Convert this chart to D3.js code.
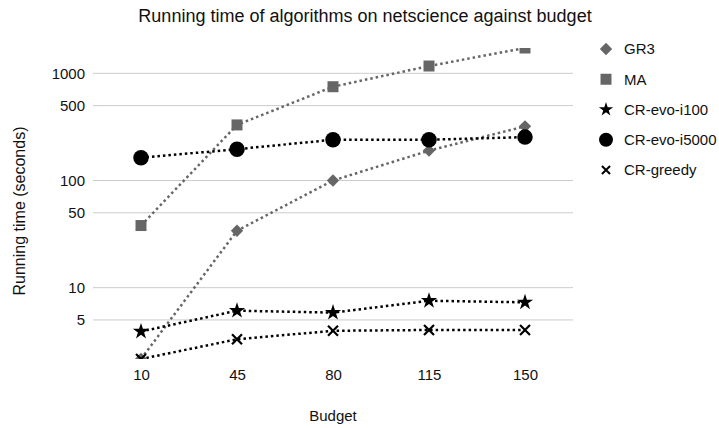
<!DOCTYPE html>
<html><head><meta charset="utf-8">
<script src="https://cdn.jsdelivr.net/npm/d3@7"></script>
<style>body{margin:0;background:#fff}svg{display:block;font-family:"Liberation Sans",Arial,sans-serif}</style>
</head><body><svg id="c" width="719" height="428"></svg>
<script>
const budgets = ["10","45","80","115","150"];
const gr3 = [2.16, 34, 100, 190, 320];
const ma = [38, 330, 750, 1170, 1723];
const evo100 = [3.9, 6.1, 5.85, 7.55, 7.3];
const evo5000 = [163, 196, 240, 240, 254];
const greedy = [2.16, 3.3, 3.96, 4.03, 4.03];
const yTicks = [5, 10, 50, 100, 500, 1000];
const seriesNames = ["GR3","MA","CR-evo-i100","CR-evo-i5000","CR-greedy"];

const series = [
  {name: seriesNames[0], values: gr3, color: "#666666", marker: "diamond"},
  {name: seriesNames[1], values: ma, color: "#666666", marker: "square"},
  {name: seriesNames[2], values: evo100, color: "#000000", marker: "star"},
  {name: seriesNames[3], values: evo5000, color: "#000000", marker: "circle"},
  {name: seriesNames[4], values: greedy, color: "#000000", marker: "cross"}
];

const svg = d3.select("#c");
const pLeft = 93, pRight = 573, pTop = 48, pBottom = 359;

const x = d3.scalePoint().domain(budgets).range([141, 525]);
const y = d3.scaleLog().domain([2.16, 1723]).range([pBottom, pTop]);

svg.append("defs").append("clipPath").attr("id","clip")
  .append("rect").attr("x", pLeft).attr("y", pTop).attr("width", pRight-pLeft).attr("height", pBottom-pTop);

// gridlines
svg.append("g").selectAll("line").data(yTicks).join("line")
  .attr("x1", pLeft).attr("x2", pRight)
  .attr("y1", d => y(d)).attr("y2", d => y(d))
  .attr("stroke", "#cccccc").attr("stroke-width", 1);

// y axis labels
const yAxis = d3.axisLeft(y).tickValues(yTicks).tickFormat(d3.format("d")).tickSize(0).tickPadding(0);
const ya = svg.append("g").attr("transform", `translate(85,0)`).call(yAxis);
ya.select(".domain").remove();
ya.selectAll("text").attr("font-size", 15).attr("fill", "#111").attr("font-family", "Liberation Sans, Arial, sans-serif");

// x axis labels
const xAxis = d3.axisBottom(x).tickSize(0).tickPadding(0);
const xa = svg.append("g").attr("transform", `translate(0,369)`).call(xAxis);
xa.select(".domain").remove();
xa.selectAll("text").attr("font-size", 15).attr("fill", "#111").attr("font-family", "Liberation Sans, Arial, sans-serif");

function markerPath(type, s) {
  if (type === "diamond") return d3.symbol(d3.symbolDiamond2, s*s*0.5)();
  if (type === "square") return d3.symbol(d3.symbolSquare, s*s)();
  if (type === "star") return d3.symbol(d3.symbolStar, s*s*0.32)();
  if (type === "circle") return d3.symbol(d3.symbolCircle, Math.PI*s*s/4)();
  if (type === "cross") return d3.symbol(d3.symbolX, s*s*0.55)();
}
const sizes = {diamond: 14, square: 11, star: 16, circle: 15.5, cross: 11};

const plot = svg.append("g").attr("clip-path", "url(#clip)");
const line = d3.line().x((d,i) => x(budgets[i])).y(d => y(d));

series.forEach(s => {
  plot.append("path").datum(s.values).attr("d", line)
    .attr("fill", "none").attr("stroke", s.color).attr("stroke-width", 2.5)
    .attr("stroke-dasharray", "2.5,3");
});
series.forEach(s => {
  const g = plot.append("g");
  s.values.forEach((v,i) => {
    const p = g.append("path").attr("d", markerPath(s.marker, sizes[s.marker]))
      .attr("transform", `translate(${x(budgets[i])},${y(v)})`);
    if (s.marker === "cross") p.attr("fill","none").attr("stroke", s.color).attr("stroke-width", 2.2);
    else p.attr("fill", s.color);
  });
});

// legend
const lg = svg.append("g");
const legY = d3.scalePoint().domain(seriesNames).range([49, 170]);
series.forEach(s => {
  const cy = legY(s.name);
  const sz = {diamond: 14, square: 11, star: 14, circle: 14, cross: 9}[s.marker];
  const p = lg.append("path").attr("d", markerPath(s.marker, sz)).attr("transform", `translate(606,${cy})`);
  if (s.marker === "cross") p.attr("fill","none").attr("stroke", s.color).attr("stroke-width", 2);
  else p.attr("fill", s.color);
  lg.append("text").attr("x", 624).attr("y", cy).attr("dy", "0.35em")
    .attr("font-size", 15).attr("fill", "#111").text(s.name);
});

// title
svg.append("text").attr("x", 365).attr("y", 22).attr("text-anchor", "middle")
  .attr("font-size", 18).attr("fill", "#111").text("Running time of algorithms on netscience against budget");
// axis titles
svg.append("text").attr("x", 333).attr("y", 421).attr("text-anchor", "middle")
  .attr("font-size", 15).attr("fill", "#111").text("Budget");
svg.append("text").attr("transform", "translate(25,211) rotate(-90)").attr("text-anchor", "middle")
  .attr("font-size", 16).attr("fill", "#111").text("Running time (seconds)");
</script></body></html>
